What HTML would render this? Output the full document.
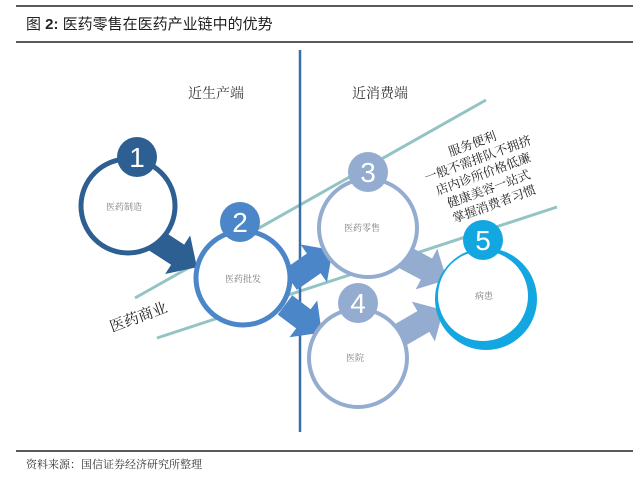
<!DOCTYPE html>
<html><head><meta charset="utf-8"><style>
html,body{margin:0;padding:0;background:#fff;}
svg{display:block;}
</style></head><body>
<svg width="640" height="481" viewBox="0 0 640 481" xmlns="http://www.w3.org/2000/svg" font-family="Liberation Serif, Noto Serif CJK SC, serif">
<line x1="16" y1="6" x2="633" y2="6" stroke="#222" stroke-width="1.5"/>
<line x1="16" y1="42" x2="633" y2="42" stroke="#222" stroke-width="1.5"/>
<text x="26" y="29" font-size="15" fill="#222" font-family="Liberation Sans, Noto Sans CJK SC, sans-serif">图 <tspan font-weight="bold">2:</tspan>  医药零售在医药产业链中的优势</text>
<line x1="16" y1="451" x2="633" y2="451" stroke="#222" stroke-width="1.5"/>
<text x="26" y="468" font-size="11" fill="#333">资料来源：国信证券经济研究所整理</text>

<text x="188" y="98" font-size="14" fill="#333">近生产端</text>
<text x="352" y="98" font-size="14" fill="#333">近消费端</text>

<line x1="135" y1="298" x2="486" y2="100" stroke="#93c4c3" stroke-width="3"/>
<line x1="157" y1="338" x2="557" y2="207" stroke="#93c4c3" stroke-width="3"/>
<line x1="300" y1="50" x2="300" y2="432" stroke="#3a6ea5" stroke-width="2.5"/>

<text x="0" y="0" font-size="15" fill="#222" transform="translate(112,332) rotate(-20)">医药商业</text>

<g font-size="12.5" fill="#222" text-anchor="middle" transform="translate(484,176) rotate(-20)">
<text x="0" y="-30">服务便利</text>
<text x="0" y="-14">一般不需排队不拥挤</text>
<text x="0" y="2">店内诊所价格低廉</text>
<text x="0" y="18">健康美容一站式</text>
<text x="0" y="34">掌握消费者习惯</text>
</g>

<g>
<polygon points="0,-12 27,-12 27,-23 50,0 27,23 27,12 0,12" fill="#2e5f93" transform="translate(155,240) rotate(33)"/>
<polygon points="0,-12 29,-12 29,-23 52,0 29,23 29,12 0,12" fill="#4a86c8" transform="translate(290,280) rotate(-35)"/>
<polygon points="0,-12 23,-12 23,-23 46,0 23,23 23,12 0,12" fill="#4a86c8" transform="translate(285,305) rotate(37)"/>
<polygon points="0,-12 30,-12 30,-23 53,0 30,23 30,12 0,12" fill="#93acd0" transform="translate(400,255) rotate(28)"/>
<polygon points="0,-12 27,-12 27,-23 50,0 27,23 27,12 0,12" fill="#93acd0" transform="translate(400,335) rotate(-30)"/>
</g>

<circle cx="128" cy="206" r="47" fill="#fff" stroke="#2e5f93" stroke-width="5"/>
<circle cx="243" cy="278" r="47" fill="#fff" stroke="#4a86c8" stroke-width="5"/>
<circle cx="368" cy="228" r="49" fill="#fff" stroke="#93acd0" stroke-width="4"/>
<circle cx="358" cy="358" r="49" fill="#fff" stroke="#93acd0" stroke-width="4"/>
<circle cx="486" cy="299" r="51" fill="#12a7e0"/>
<circle cx="483" cy="296" r="45" fill="#fff"/>

<g font-size="9" fill="#777" text-anchor="middle">
<text x="124" y="210">医药制造</text>
<text x="243" y="282">医药批发</text>
<text x="362" y="231">医药零售</text>
<text x="355" y="361">医院</text>
<text x="484" y="299">病患</text>
</g>

<g font-family="Liberation Sans, sans-serif" font-size="28" fill="#fff" text-anchor="middle">
<circle cx="137" cy="157" r="20" fill="#2e5f93"/><text x="137" y="167">1</text>
<circle cx="240" cy="222" r="20" fill="#4a86c8"/><text x="240" y="232">2</text>
<circle cx="368" cy="172" r="20" fill="#93acd0"/><text x="368" y="182">3</text>
<circle cx="358" cy="303" r="20" fill="#93acd0"/><text x="358" y="313">4</text>
<circle cx="483" cy="240" r="20" fill="#12a7e0"/><text x="483" y="250">5</text>
</g>
</svg>
</body></html>
